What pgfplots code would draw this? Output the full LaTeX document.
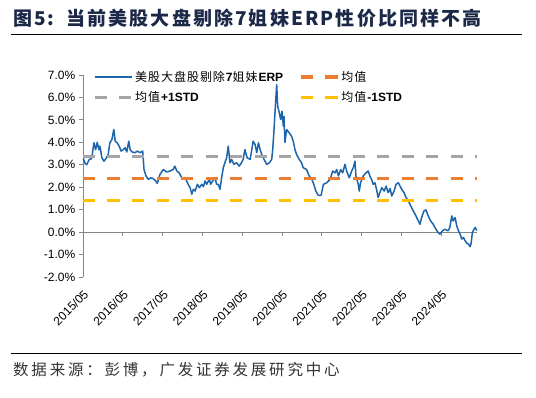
\documentclass[border=0pt]{standalone}
\usepackage{pgfplots}
\pgfplotsset{compat=1.18}
\usepackage{pgfplotstable}
\usepackage{fontspec}
\setmainfont{Liberation Sans}
\newfontfamily\cjk{Noto Sans CJK SC}
\newfontfamily\cjkl[LetterSpace=8]{Noto Sans CJK SC}
\definecolor{erpblue}{RGB}{28,101,170}
\definecolor{meanorange}{RGB}{237,125,49}
\definecolor{stdgray}{RGB}{165,165,165}
\definecolor{stdyellow}{RGB}{255,192,0}
\definecolor{titlenavy}{RGB}{28,40,72}
\definecolor{axisgray}{RGB}{134,134,134}

\pgfplotstableread{
m v
0.1 3.29
0.6 3.07
1.1 3.00
1.9 3.24
2.6 3.27
3.3 3.98
3.8 3.67
4.3 4.00
4.8 3.67
5.1 3.83
5.7 3.31
6.3 3.16
6.9 3.27
7.6 3.46
8.1 3.98
8.7 4.12
9.3 4.57
9.7 4.05
10.3 3.98
10.9 3.83
11.5 3.61
12.2 3.68
12.7 3.76
13.2 3.57
13.8 4.05
14.2 3.68
14.8 3.57
15.7 3.54
16.4 3.61
17.2 3.54
18.0 3.61
18.4 2.79
19.0 2.50
19.7 2.35
20.4 2.42
21.2 2.38
22.0 2.27
22.4 2.17
23.2 2.57
24.2 2.79
25.2 2.68
26.2 2.72
27.2 2.79
27.7 2.94
28.3 2.72
29.0 2.64
29.8 2.42
30.8 2.42
31.7 2.13
32.3 1.98
32.8 1.69
33.3 1.91
33.8 1.83
34.5 2.13
35.1 1.98
35.8 2.13
36.3 2.03
36.8 2.28
37.3 2.13
38.1 2.35
38.5 2.13
39.1 2.28
39.8 2.42
40.3 2.13
40.8 2.13
41.3 1.91
41.8 2.42
42.3 2.87
42.8 3.09
43.3 3.31
43.8 3.83
44.3 3.09
44.8 3.24
45.5 3.02
46.3 3.09
47.1 2.94
47.8 3.09
48.3 3.24
48.8 3.68
49.5 3.31
50.4 3.24
50.9 3.68
51.3 4.05
51.9 3.90
52.4 3.54
52.9 3.98
53.4 3.68
53.9 3.46
54.6 3.24
55.4 3.02
56.2 3.09
56.9 3.24
57.2 3.68
57.6 4.57
58.0 5.61
58.4 6.57
58.7 5.61
59.1 5.38
59.6 5.02
60.0 5.38
60.4 4.72
60.6 5.16
60.9 4.00
61.4 4.57
62.2 4.42
62.9 4.27
63.4 4.05
63.9 3.68
64.4 3.46
65.2 3.24
65.9 3.09
66.4 2.87
67.4 2.79
68.2 2.50
69.0 2.35
69.6 2.13
70.2 1.83
70.9 1.64
71.8 1.64
72.5 2.13
73.5 2.20
74.5 2.35
75.3 2.72
76.0 2.64
76.5 2.79
77.0 2.50
77.7 2.79
78.3 2.64
79.0 3.02
79.5 2.72
80.3 2.42
81.0 2.72
81.5 2.87
82.0 3.16
82.3 2.50
83.0 2.13
83.3 1.83
83.7 2.20
84.5 2.50
85.3 2.64
86.0 2.72
86.5 2.50
87.0 2.35
87.5 2.13
88.0 2.20
88.5 1.91
89.0 1.54
89.5 1.76
90.1 1.98
90.8 1.83
91.4 2.05
92.0 1.76
92.6 1.94
93.1 1.61
93.8 1.83
94.4 2.13
95.1 2.20
95.6 2.05
96.1 1.91
96.8 1.76
97.4 1.54
98.1 1.39
98.8 1.17
99.6 0.94
100.4 0.72
101.1 0.50
101.6 0.35
102.1 0.65
102.8 0.94
103.4 0.99
104.1 0.72
104.8 0.50
105.6 0.35
106.4 0.13
107.1 -0.02
107.6 -0.09
108.4 0.06
109.1 0.13
110.1 0.06
110.6 0.21
111.2 0.72
111.6 0.50
112.2 0.65
112.7 0.28
113.2 0.06
113.7 -0.09
114.2 -0.31
114.7 -0.24
115.2 -0.38
115.7 -0.49
116.2 -0.53
116.7 -0.65
117.0 -0.53
117.4 -0.02
117.9 0.13
118.3 0.21
118.7 0.06
}\erpdata

\begin{document}
\begin{tikzpicture}
\useasboundingbox (0pt,0pt) rectangle (536pt,-398pt);
\node[anchor=west, inner sep=0pt, text=titlenavy, font=\cjk\bfseries\fontsize{19}{22}\selectfont\addfontfeatures{LetterSpace=11}] at (13pt,-18pt) {图5:\hspace{12pt}当前美股大盘剔除7姐妹ERP性价比同样不高};
\draw[line width=1.4pt, black] (11pt,-34.5pt) -- (522pt,-34.5pt);
\draw[line width=1pt, black] (11pt,-353.5pt) -- (522pt,-353.5pt);
\node[anchor=west, inner sep=0pt, text=black!80, font=\cjk\fontsize{15.5}{18}\selectfont\addfontfeatures{LetterSpace=18}] at (13pt,-370pt) {数据来源：彭博，广发证券发展研究中心};
\begin{axis}[
  at={(83pt,-277pt)}, anchor=south west,
  scale only axis, width=394pt, height=202pt,
  axis x line=middle, axis y line=left,
  axis line style={axisgray, line width=0.8pt, -},
  enlargelimits=false,
  hide obscured x ticks=false,
  hide obscured y ticks=false,
  xmin=0, xmax=118.8, ymin=-2, ymax=7,
  xtick={0,12,...,108},
  xticklabels={2015/05,2016/05,2017/05,2018/05,2019/05,2020/05,2021/05,2022/05,2023/05,2024/05},
  ytick={-2,-1,...,7},
  yticklabel={\pgfmathprintnumber[fixed,fixed zerofill,precision=1]{\tick}\%},
  /pgf/number format/assume math mode=true,
  tick align=outside,
  major tick length=3.5pt,
  tick style={axisgray, line width=0.8pt},
  ticklabel style={font=\fontsize{12}{14}\selectfont, text=black},
  xticklabel style={yshift=-52pt, rotate=45, anchor=north east, inner sep=1pt},
  yticklabel style={inner sep=4pt},
  legend columns=2,
  legend style={draw=none, fill=none, at={(0.025,1.03)}, anchor=north west,
    font=\fontsize{12}{14}\selectfont, inner sep=0pt, row sep=4.5pt,
    /tikz/every even column/.append style={column sep=14pt}},
  legend cell align=left,
  legend image code/.code={\draw[#1] (0pt,0pt) -- (37pt,0pt);},
]
\addplot[erpblue, line width=1.5pt, line join=round] table[x=m, y=v] {\erpdata};
\addlegendentry{{\cjkl 美股大盘股剔除}\textbf{7}{\cjkl 姐妹}\textbf{ERP}}
\addplot[meanorange, line width=3.2pt, dash pattern=on 12.3pt off 12.2pt] coordinates {(0,2.39) (118.8,2.39)};
\addlegendentry{{\cjkl 均值}}
\addplot[stdgray, line width=3.2pt, dash pattern=on 12.3pt off 12.2pt] coordinates {(0,3.36) (118.8,3.36)};
\addlegendentry{{\cjkl 均值}\textbf{+1STD}}
\addplot[stdyellow, line width=3.2pt, dash pattern=on 12.3pt off 12.2pt] coordinates {(0,1.42) (118.8,1.42)};
\addlegendentry{{\cjkl 均值}\textbf{-1STD}}
\end{axis}
\end{tikzpicture}
\end{document}
